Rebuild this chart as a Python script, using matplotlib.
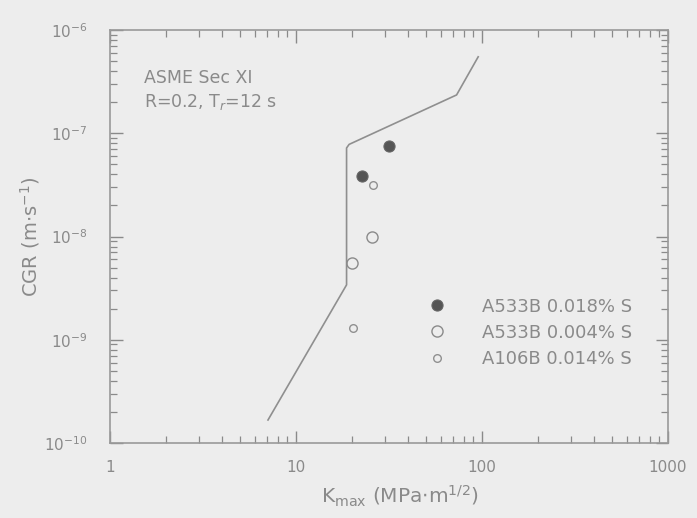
import matplotlib
matplotlib.use("Agg")
import matplotlib.pyplot as plt
from matplotlib.ticker import LogLocator, FixedLocator, FixedFormatter, NullFormatter

plt.rcParams['font.family'] = ['DejaVu Sans']
plt.rcParams['mathtext.fontset'] = 'dejavusans'

# ASME Sec XI reference curve
curve_k = [7.07, 18.7, 18.7, 19.3, 73.0, 95.4]
curve_cgr = [1.67e-10, 3.4e-9, 7.2e-8, 7.8e-8, 2.35e-7, 5.5e-7]

# Data series
a533_018_k = [31.7, 22.6]
a533_018_cgr = [7.5e-8, 3.85e-8]
a533_004_k = [25.6, 19.9]
a533_004_cgr = [9.8e-9, 5.5e-9]
a106_014_k = [25.8, 20.3]
a106_014_cgr = [3.15e-8, 1.29e-9]

xtick_vals = [1, 10, 100, 1000]
xtick_labels = ['1', '10', '100', '1000']

bg = '#ededed'
fg = '#8a8a8a'

fig = plt.figure(figsize=(6.97, 5.18), dpi=100, facecolor=bg)
ax = fig.add_axes([110/697, 1-443/518, (668-110)/697, (443-30)/518], facecolor=bg)

ax.plot(curve_k, curve_cgr, color='#8f8f8f', lw=1.2, zorder=2)
ax.plot(a533_018_k, a533_018_cgr, 'o', ms=8, mfc='#555555', mec='#666666', mew=0.8,
        ls='none', label='A533B 0.018% S', zorder=3)
ax.plot(a533_004_k, a533_004_cgr, 'o', ms=8, mfc='none', mec='#8a8a8a', mew=1.0,
        ls='none', label='A533B 0.004% S', zorder=3)
ax.plot(a106_014_k, a106_014_cgr, 'o', ms=5.5, mfc='none', mec='#909090', mew=1.0,
        ls='none', label='A106B 0.014% S', zorder=3)

ax.set_xscale('log')
ax.set_yscale('log')
ax.set_xlim(1, 1000)
ax.set_ylim(1e-10, 1e-6)

ax.xaxis.set_major_locator(FixedLocator(xtick_vals))
ax.xaxis.set_major_formatter(FixedFormatter(xtick_labels))
ax.xaxis.set_minor_locator(LogLocator(base=10, subs=range(2, 10), numticks=20))
ax.xaxis.set_minor_formatter(NullFormatter())
ax.yaxis.set_minor_locator(LogLocator(base=10, subs=range(2, 10), numticks=20))
ax.yaxis.set_minor_formatter(NullFormatter())

ax.tick_params(which='both', direction='in', top=True, right=True, color=fg, labelcolor=fg)
ax.tick_params(which='major', length=9, width=1.0, labelsize=11)
ax.tick_params(axis='x', which='major', pad=12)
ax.tick_params(axis='y', which='major', pad=16)
ax.tick_params(which='minor', length=5, width=0.9)
for s in ax.spines.values():
    s.set_color('#999999')
    s.set_linewidth(1.2)

ax.set_xlabel(r'K$_{\mathrm{max}}$ (MPa$\cdot$m$^{1/2}$)', color=fg, fontsize=14.5)
ax.xaxis.set_label_coords((400-110)/558, (443-484)/413)
ax.set_ylabel(r'CGR (m$\cdot$s$^{-1}$)', color=fg, fontsize=14)
ax.yaxis.set_label_coords((42-110)/558, 0.50)

ax.text(0.061, 0.905, 'ASME Sec XI\nR=0.2, T$_r$=12 s', transform=ax.transAxes,
        color=fg, fontsize=12.5, va='top', ha='left', linespacing=1.3)

leg = ax.legend(loc='upper left', bbox_to_anchor=(0.570, 0.352), frameon=False,
                fontsize=13, handletextpad=2.0, labelspacing=0.45, handlelength=1.0,
                borderpad=0, borderaxespad=0)
for t in leg.get_texts():
    t.set_color(fg)

fig.savefig('out.png', dpi=100, facecolor=bg)
